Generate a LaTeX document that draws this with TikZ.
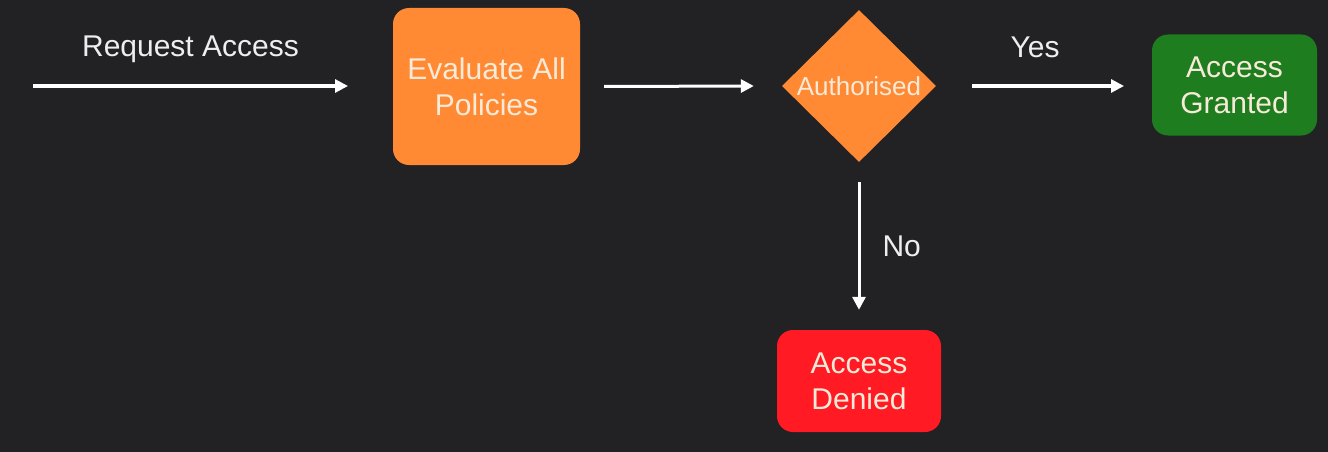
\documentclass[tikz,border=0pt]{standalone}
\usepackage{fontspec}
\setmainfont{Liberation Sans}
\usetikzlibrary{arrows.meta,shapes.geometric}
\definecolor{bg}{HTML}{222124}
\definecolor{orangebox}{HTML}{FF8A33}
\definecolor{greenbox}{HTML}{1E7D1E}
\definecolor{redbox}{HTML}{FF1A24}
\definecolor{boxtext}{HTML}{F8EAD8}
\definecolor{labeltext}{HTML}{EEEEEE}
\tikzset{
  flowbox/.style={rounded corners=16pt, draw=none, align=center, text=boxtext,
    font=\fontsize{30}{36}\selectfont, inner sep=0pt},
  flowlabel/.style={text=labeltext, font=\fontsize{30}{36}\selectfont, inner sep=0pt},
  flowarrow/.style={draw=white, line width=3pt, -{Triangle[length=13pt,width=13pt]}},
}
\begin{document}
\begin{tikzpicture}[x=1pt,y=-1pt]
\fill[bg] (0,0) rectangle (1328,452);
\useasboundingbox (0,0) rectangle (1328,452);

\coordinate (start) at (33,86);
\coordinate (reqend) at (348,86);
\node[flowbox, fill=orangebox, minimum width=187pt, minimum height=157pt] (eval) at (486.5,86.5) {Evaluate All\\Policies};
\node[diamond, fill=orangebox, minimum width=154pt, minimum height=152pt, inner sep=0pt, text=boxtext, font=\fontsize{26}{30}\selectfont] (auth) at (859,86) {Authorised};
\node[flowbox, fill=greenbox, minimum width=165pt, minimum height=101pt, text depth=-2pt] (grant) at (1234.5,85) {Access\\Granted};
\node[flowbox, fill=redbox, minimum width=164pt, minimum height=102pt] (deny) at (859,381) {Access\\Denied};
\coordinate (yesend) at (1124,86);

\draw[flowarrow] (start) -- (reqend) node[flowlabel, midway, above=22pt] (reqlab) {Request Access};
\draw[flowarrow] ([xshift=24pt]eval.east) -- ([xshift=-28pt]auth.west);
\draw[flowarrow] ([xshift=36pt]auth.east) -- (yesend) node[flowlabel, midway, above=27pt, xshift=-13pt] (yes) {Yes};
\draw[flowarrow] ([yshift=-20pt]auth.south) -- ([yshift=20pt]deny.north) node[flowlabel, midway, right=22pt] (no) {No};
\end{tikzpicture}
\end{document}
